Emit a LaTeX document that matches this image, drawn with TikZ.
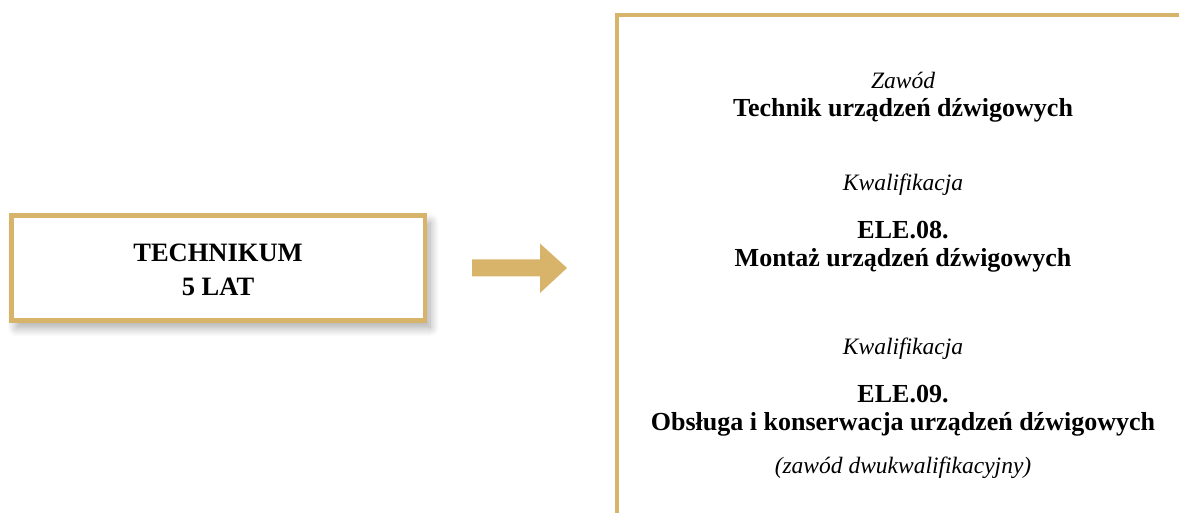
\documentclass[tikz,border=0pt]{standalone}
\usepackage{fontspec}
\setmainfont{Liberation Serif}
\usetikzlibrary{shadows.blur}
\definecolor{gold}{HTML}{D8B46A}
\tikzset{
  goldline/.style={draw=gold,line width=4.5pt},
  bt/.style={font=\bfseries\fontsize{26}{30}\selectfont,inner sep=0pt,anchor=base},
  boxt/.style={font=\bfseries\fontsize{26.5}{30}\selectfont,inner sep=0pt,anchor=base},
  it/.style={font=\itshape\fontsize{23.5}{27}\selectfont,inner sep=0pt,anchor=base},
}
\begin{document}
\begin{tikzpicture}[x=1pt,y=-1pt]
\useasboundingbox (0,0) rectangle (1179,513);
% left box
\node[goldline,fill=white,minimum width=413.5pt,minimum height=105pt,inner sep=0pt,
  blur shadow={shadow xshift=5pt,shadow yshift=-7pt,shadow blur radius=9pt,shadow blur steps=14,shadow opacity=35}] (box) at (218.25,268) {};
\node[boxt] (t1) at (218,262) {TECHNIKUM};
\node[boxt] (t2) at (218,296) {5 LAT};
% arrow
\coordinate (arr) at (472,268);
\fill[gold] (arr) ++(0,-8.5) -- ++(68,0) -- ++(0,-16) -- (567,268) -- (540,293) -- ++(0,-16.5) -- ++(-68,0) -- cycle;
% right panel
\draw[goldline] (617,513) -- (617,15) coordinate (corner) -- (1179,15);
\node[it] (z) at (903,89) {Zawód};
\node[bt] (zt) at (903,117) {Technik urządzeń dźwigowych};
\node[it] (k1) at (903,191) {Kwalifikacja};
\node[bt] (e8) at (903,239) {ELE.08.};
\node[bt] (m8) at (903,267) {Montaż urządzeń dźwigowych};
\node[it] (k2) at (903,355) {Kwalifikacja};
\node[bt] (e9) at (903,402) {ELE.09.};
\node[bt] (o9) at (903,430) {Obsługa i konserwacja urządzeń dźwigowych};
\node[it] (dw) at (903,473) {(zawód dwukwalifikacyjny)};
\end{tikzpicture}
\end{document}
